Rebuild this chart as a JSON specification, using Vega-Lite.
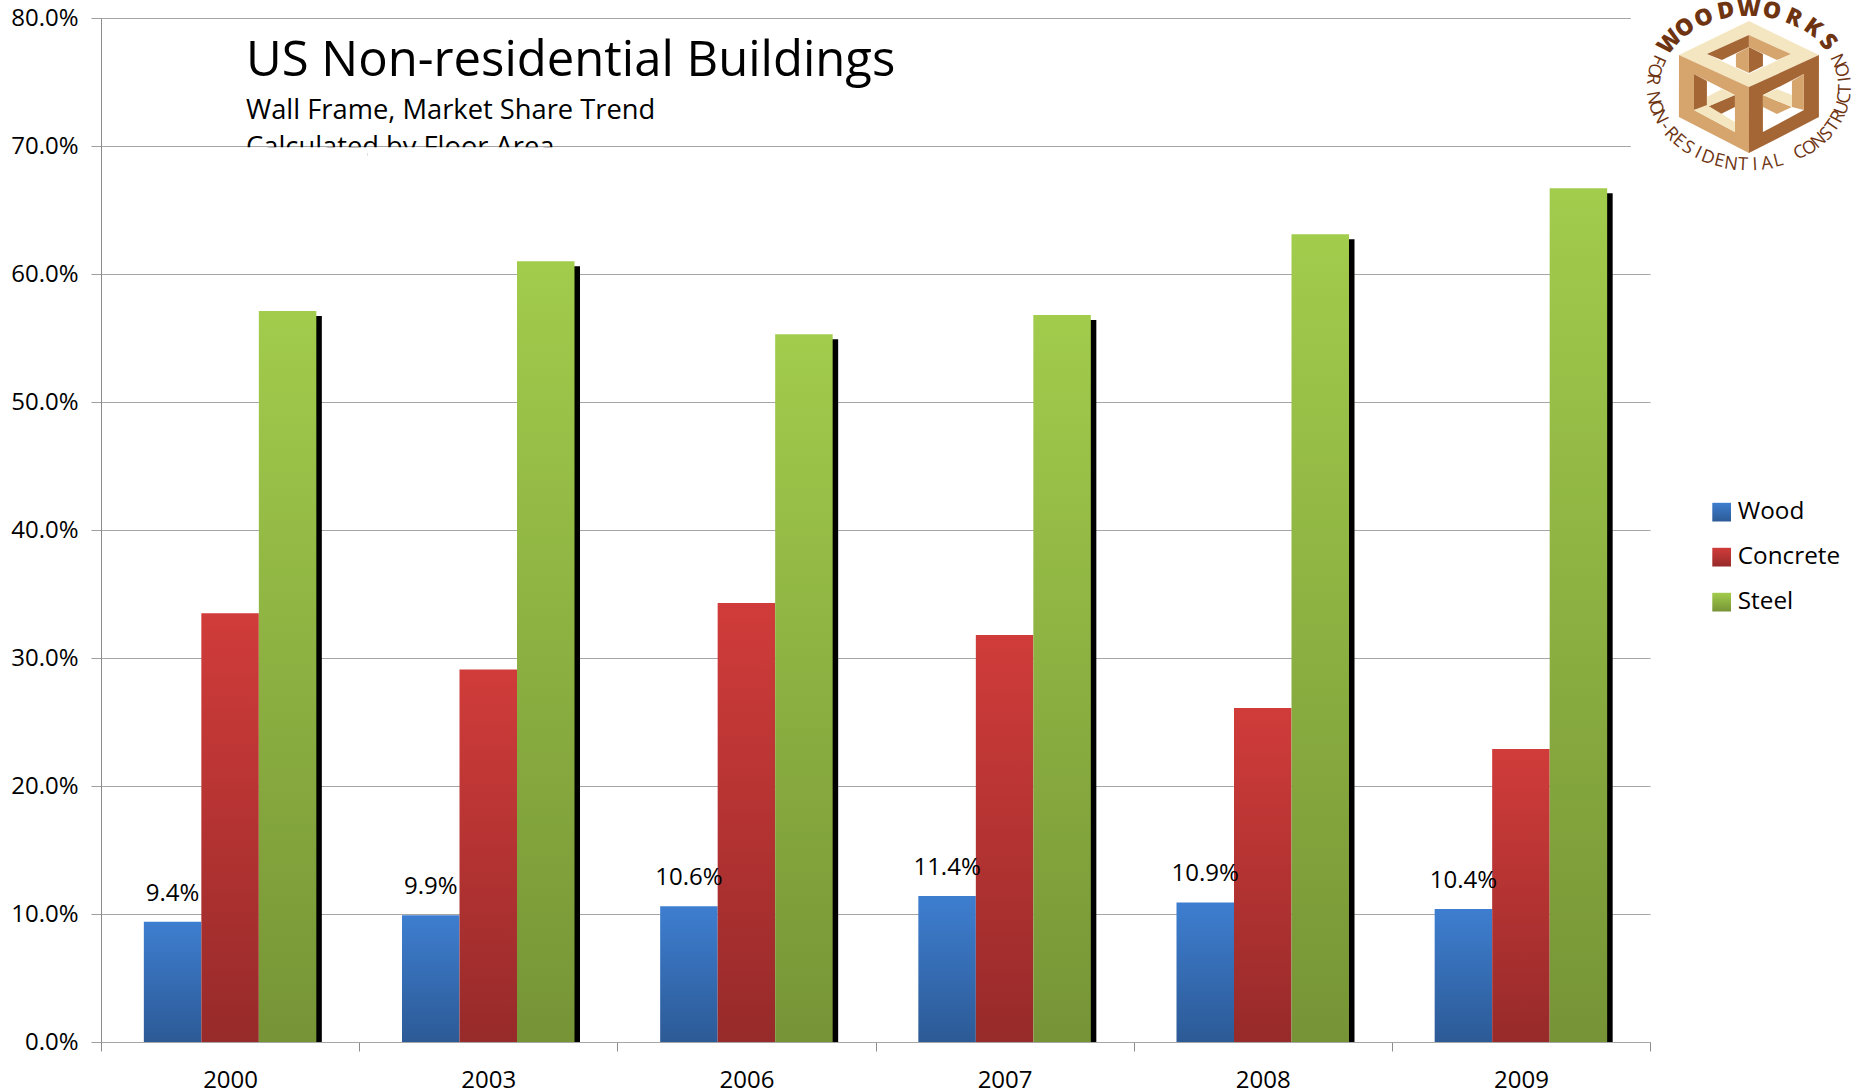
{"$schema":"https://vega.github.io/schema/vega-lite/v6.json","width":1549,"height":1024,"autosize":{"type":"none"},"padding":{"left":101,"top":18,"right":203,"bottom":49},"background":"white","config":{"view":{"stroke":null},"font":"Open Sans"},
"title":{"text":"US Non-residential Buildings","subtitle":"Wall Frame, Market Share Trend","anchor":"start","frame":"group","dx":145,"dy":130,"fontSize":49,"fontWeight":"normal","font":"Open Sans","color":"black","subtitleFont":"Open Sans","subtitleFontSize":27.3,"subtitleColor":"black","subtitlePadding":11},
"data":{"values":[
{"year":"2000","material":"Wood","share":0.094},{"year":"2000","material":"Concrete","share":0.335},{"year":"2000","material":"Steel","share":0.571},
{"year":"2003","material":"Wood","share":0.099},{"year":"2003","material":"Concrete","share":0.291},{"year":"2003","material":"Steel","share":0.610},
{"year":"2006","material":"Wood","share":0.106},{"year":"2006","material":"Concrete","share":0.343},{"year":"2006","material":"Steel","share":0.553},
{"year":"2007","material":"Wood","share":0.114},{"year":"2007","material":"Concrete","share":0.318},{"year":"2007","material":"Steel","share":0.568},
{"year":"2008","material":"Wood","share":0.109},{"year":"2008","material":"Concrete","share":0.261},{"year":"2008","material":"Steel","share":0.631},
{"year":"2009","material":"Wood","share":0.104},{"year":"2009","material":"Concrete","share":0.229},{"year":"2009","material":"Steel","share":0.667}]},
"encoding":{
"x":{"field":"year","type":"nominal","scale":{"paddingInner":0,"paddingOuter":0},"axis":{"title":null,"labelAngle":0,"labelFontSize":24,"labelColor":"black","labelFont":"Open Sans","labelPadding":17,"tickBand":"extent","tickSize":9,"tickColor":"#8c8c8c","domainColor":"#a6a6a6","grid":false}},
"y":{"field":"share","type":"quantitative","stack":null,"scale":{"domain":[0,0.8],"nice":false},"axis":{"title":null,"format":".1%","values":[0,0.1,0.2,0.3,0.4,0.5,0.6,0.7,0.8],"labelFontSize":24,"labelColor":"black","labelFont":"Open Sans","labelPadding":13,"tickSize":10,"tickColor":"#a0a0a0","domainColor":"#8c8c8c","gridColor":"#a6a6a6"}}},
"layer":[
{"transform":[{"filter":"datum.material === 'Steel'"}],"mark":{"type":"bar","color":"black","width":57.5,"xOffset":63,"yOffset":5,"clip":true}},
{"mark":{"type":"bar"},"encoding":{"xOffset":{"field":"material","type":"nominal","scale":{"domain":["Wood","Concrete","Steel"],"paddingInner":0,"paddingOuter":0.745}},"fill":{"field":"material","type":"nominal","scale":{"domain":["Wood","Concrete","Steel"],"range":[
{"expr":"{gradient:'linear',x1:0,y1:0,x2:0,y2:1,stops:[{offset:0,color:'#3e7ed0'},{offset:1,color:'#2c5a96'}]}"},
{"expr":"{gradient:'linear',x1:0,y1:0,x2:0,y2:1,stops:[{offset:0,color:'#d03c3a'},{offset:1,color:'#972a2a'}]}"},
{"expr":"{gradient:'linear',x1:0,y1:0,x2:0,y2:1,stops:[{offset:0,color:'#a2cc4c'},{offset:1,color:'#769436'}]}"}]},
"legend":{"title":null,"orient":"none","legendX":1608.5,"legendY":482,"symbolType":"square","symbolSize":350,"symbolStrokeWidth":0,"labelFontSize":24.3,"labelFont":"Open Sans","labelColor":"black","labelOffset":4,"rowPadding":20}}}},
{"transform":[{"filter":"datum.material === 'Wood'"}],"mark":{"type":"text","fontSize":24,"color":"black","baseline":"middle","dy":-28,"xOffset":-57.5},"encoding":{"text":{"field":"share","type":"quantitative","format":".1%"}}},
{"data":{"values":[{"year":"2000","share":0.7,"note":"Calculated by Floor Area"}]},"mark":{"type":"text","align":"left","baseline":"alphabetic","fontSize":27.3,"color":"black","xOffset":16,"yOffset":10},"encoding":{"text":{"field":"note"}}},
{"data":{"values":[{"year":"2000","share":0.699,"end":0.68},{"year":"2003","share":0.699,"end":0.68}]},"mark":{"type":"rect","color":"white","xOffset":8},"encoding":{"y2":{"field":"end"}}},
{"data":{"values":[{"year":"2009","share":0.802,"end":0.69}]},"mark":{"type":"rect","color":"white","xOffset":239},"encoding":{"y2":{"field":"end"}}},
{"data":{"values":[{"year":"2009","share":0.746}]},"layer":[
{"mark":{"type":"point","filled":true,"opacity":1,"size":4,"xOffset":228,"color":"#f3e6c0","shape":"M0,-66L70,-32L0,0L-70,-32Z"}},
{"mark":{"type":"point","filled":true,"opacity":1,"size":4,"xOffset":228,"color":"#d6a56e","shape":"M-70,-32L0,0L0,66L-70,30Z"}},
{"mark":{"type":"point","filled":true,"opacity":1,"size":4,"xOffset":228,"color":"#a56636","shape":"M70,-32L0,0L0,66L70,30Z"}},
{"mark":{"type":"point","filled":true,"opacity":1,"size":4,"xOffset":228,"color":"white","shape":"M-42,-33L0,-52L42,-33L0,-13ZM-55,-13L-14,8L-14,45L-55,23ZM14,8L55,-13L55,23L14,45Z"}},
{"mark":{"type":"point","filled":true,"opacity":1,"size":4,"xOffset":228,"color":"#a56636","shape":"M-42,-33L0,-52L0,-40L-27,-27ZM0,-40L14,-33L14,-21L0,-14ZM-55,-13L-42,-6L-42,20L-55,23ZM-42,20L-14,8L-14,20L-28,27Z"}},
{"mark":{"type":"point","filled":true,"opacity":1,"size":4,"xOffset":228,"color":"#d6a56e","shape":"M0,-52L42,-33L28,-27L0,-40ZM-13,-33L0,-40L0,-14L-13,-20ZM43,-6L55,-13L55,23L43,20ZM14,8L43,20L28,27L14,20Z"}},
{"mark":{"type":"point","filled":true,"opacity":1,"size":4,"xOffset":228,"color":"#f3e6c0","shape":"M-55,23L-42,18L-14,35L-14,45ZM-42,10L-27,2L-14,8L-42,20ZM14,8L28,2L43,8L43,20Z"}},
{"mark":{"type":"text","text":"W","fontSize":23,"fontWeight":800,"color":"#6e3412","baseline":"middle","xOffset":149,"yOffset":-45,"angle":311}},
{"mark":{"type":"text","text":"O","fontSize":23,"fontWeight":800,"color":"#6e3412","baseline":"middle","xOffset":164,"yOffset":-59,"angle":325}},
{"mark":{"type":"text","text":"O","fontSize":23,"fontWeight":800,"color":"#6e3412","baseline":"middle","xOffset":183,"yOffset":-69,"angle":337}},
{"mark":{"type":"text","text":"D","fontSize":23,"fontWeight":800,"color":"#6e3412","baseline":"middle","xOffset":205,"yOffset":-76,"angle":349}},
{"mark":{"type":"text","text":"W","fontSize":23,"fontWeight":800,"color":"#6e3412","baseline":"middle","xOffset":228,"yOffset":-78,"angle":0}},
{"mark":{"type":"text","text":"O","fontSize":23,"fontWeight":800,"color":"#6e3412","baseline":"middle","xOffset":251,"yOffset":-76,"angle":11}},
{"mark":{"type":"text","text":"R","fontSize":23,"fontWeight":800,"color":"#6e3412","baseline":"middle","xOffset":273,"yOffset":-69,"angle":23}},
{"mark":{"type":"text","text":"K","fontSize":23,"fontWeight":800,"color":"#6e3412","baseline":"middle","xOffset":292,"yOffset":-59,"angle":35}},
{"mark":{"type":"text","text":"S","fontSize":23,"fontWeight":800,"color":"#6e3412","baseline":"middle","xOffset":307,"yOffset":-45,"angle":49}},
{"mark":{"type":"text","text":"F","fontSize":18,"color":"#6e3412","baseline":"middle","xOffset":137,"yOffset":-27,"angle":114}},
{"mark":{"type":"text","text":"O","fontSize":18,"color":"#6e3412","baseline":"middle","xOffset":133,"yOffset":-17,"angle":106}},
{"mark":{"type":"text","text":"R","fontSize":18,"color":"#6e3412","baseline":"middle","xOffset":131.5,"yOffset":-8,"angle":97}},
{"mark":{"type":"text","text":"N","fontSize":18,"color":"#6e3412","baseline":"middle","xOffset":132,"yOffset":11,"angle":80}},
{"mark":{"type":"text","text":"O","fontSize":18,"color":"#6e3412","baseline":"middle","xOffset":134.5,"yOffset":21,"angle":71}},
{"mark":{"type":"text","text":"N","fontSize":18,"color":"#6e3412","baseline":"middle","xOffset":138.5,"yOffset":30,"angle":63}},
{"mark":{"type":"text","text":"-","fontSize":18,"color":"#6e3412","baseline":"middle","xOffset":144,"yOffset":39,"angle":55}},
{"mark":{"type":"text","text":"R","fontSize":18,"color":"#6e3412","baseline":"middle","xOffset":150,"yOffset":47,"angle":47}},
{"mark":{"type":"text","text":"E","fontSize":18,"color":"#6e3412","baseline":"middle","xOffset":158,"yOffset":54,"angle":40}},
{"mark":{"type":"text","text":"S","fontSize":18,"color":"#6e3412","baseline":"middle","xOffset":167,"yOffset":61,"angle":33}},
{"mark":{"type":"text","text":"I","fontSize":18,"color":"#6e3412","baseline":"middle","xOffset":177,"yOffset":66,"angle":26}},
{"mark":{"type":"text","text":"D","fontSize":18,"color":"#6e3412","baseline":"middle","xOffset":187,"yOffset":71,"angle":20}},
{"mark":{"type":"text","text":"E","fontSize":18,"color":"#6e3412","baseline":"middle","xOffset":198.5,"yOffset":74,"angle":14}},
{"mark":{"type":"text","text":"N","fontSize":18,"color":"#6e3412","baseline":"middle","xOffset":210,"yOffset":77,"angle":8}},
{"mark":{"type":"text","text":"T","fontSize":18,"color":"#6e3412","baseline":"middle","xOffset":222,"yOffset":78,"angle":3}},
{"mark":{"type":"text","text":"I","fontSize":18,"color":"#6e3412","baseline":"middle","xOffset":234,"yOffset":78,"angle":357}},
{"mark":{"type":"text","text":"A","fontSize":18,"color":"#6e3412","baseline":"middle","xOffset":246,"yOffset":77,"angle":352}},
{"mark":{"type":"text","text":"L","fontSize":18,"color":"#6e3412","baseline":"middle","xOffset":257.5,"yOffset":74,"angle":346}},
{"mark":{"type":"text","text":"C","fontSize":18,"color":"#6e3412","baseline":"middle","xOffset":279,"yOffset":66,"angle":334}},
{"mark":{"type":"text","text":"O","fontSize":18,"color":"#6e3412","baseline":"middle","xOffset":289,"yOffset":61,"angle":327}},
{"mark":{"type":"text","text":"N","fontSize":18,"color":"#6e3412","baseline":"middle","xOffset":298,"yOffset":54,"angle":320}},
{"mark":{"type":"text","text":"S","fontSize":18,"color":"#6e3412","baseline":"middle","xOffset":306,"yOffset":47,"angle":313}},
{"mark":{"type":"text","text":"T","fontSize":18,"color":"#6e3412","baseline":"middle","xOffset":312,"yOffset":39,"angle":305}},
{"mark":{"type":"text","text":"R","fontSize":18,"color":"#6e3412","baseline":"middle","xOffset":317.5,"yOffset":30,"angle":297}},
{"mark":{"type":"text","text":"U","fontSize":18,"color":"#6e3412","baseline":"middle","xOffset":321.5,"yOffset":21,"angle":289}},
{"mark":{"type":"text","text":"C","fontSize":18,"color":"#6e3412","baseline":"middle","xOffset":324,"yOffset":11,"angle":280}},
{"mark":{"type":"text","text":"T","fontSize":18,"color":"#6e3412","baseline":"middle","xOffset":325,"yOffset":2,"angle":271}},
{"mark":{"type":"text","text":"I","fontSize":18,"color":"#6e3412","baseline":"middle","xOffset":324.5,"yOffset":-8,"angle":263}},
{"mark":{"type":"text","text":"O","fontSize":18,"color":"#6e3412","baseline":"middle","xOffset":322.5,"yOffset":-17.5,"angle":254}},
{"mark":{"type":"text","text":"N","fontSize":18,"color":"#6e3412","baseline":"middle","xOffset":319,"yOffset":-27,"angle":246}}
]}
]}
